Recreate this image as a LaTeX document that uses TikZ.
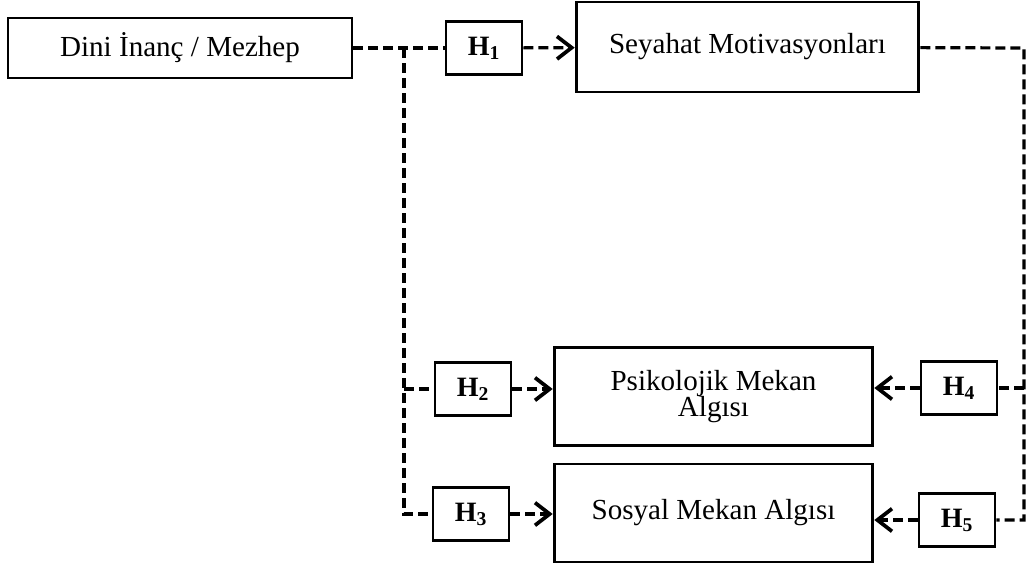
\documentclass[tikz,border=0pt]{standalone}
\usepackage{fontspec}
\setmainfont{Liberation Serif}
\usetikzlibrary{arrows.meta}

\begin{document}
\begin{tikzpicture}[x=0.75pt,y=0.75pt,yscale=-1,xscale=1,
		box/.style={draw, line width=2.2pt, inner sep=0.75pt, align=center, font=\fontsize{21.8}{20}\selectfont},
		hbox/.style={box, minimum width=57pt, minimum height=40pt, font=\fontsize{21}{22}\selectfont\bfseries},
		link/.style={line width=2.4pt, dash pattern=on 7.5pt off 3.75pt},
		tip/.style={link, -{Straight Barb[length=11pt,width=17pt,line width=2.8pt]}}]
		%set diagram left start at 0, and has height of 568
		\useasboundingbox (0,0) rectangle (1028,568);
		
		%Shape: Rectangle
		\node [box, minimum width=258pt, minimum height=45pt] (dini) at (180,48) {Dini İnanç / Mezhep};
		%Shape: Rectangle
		\node [box, minimum width=257pt, minimum height=67.5pt] (seyahat) at (747.5,47) {Seyahat Motivasyonları};
		%Shape: Rectangle
		\node [box, minimum width=239pt, minimum height=74pt] (psiko) at (713.5,396.5) {Psikolojik Mekan\\Algısı};
		%Shape: Rectangle
		\node [box, minimum width=239pt, minimum height=73.5pt] (sosyal) at (713.5,513) {Sosyal Mekan Algısı};
		
		% Text Node
		\node [hbox] (h1) at (484,48) {H\textsubscript{1}};
		% Text Node
		\node [hbox] (h2) at (473,389) {H\textsubscript{2}};
		% Text Node
		\node [hbox] (h3) at (471,514) {H\textsubscript{3}};
		% Text Node
		\node [hbox] (h4) at (959,388) {H\textsubscript{4}};
		% Text Node
		\node [hbox] (h5) at (957,520) {H\textsubscript{5}};
		
		\coordinate (jl) at (404,48);
		\coordinate (jr) at (1024,48);
		
		% Connection
		\draw [link] (dini) -- (h1);
		\draw [tip] (h1) -- (seyahat);
		% Connection
		\draw [link] (jl) -- (jl |- h3) -- (h3);
		\draw [link] (jl |- h2) -- (h2);
		\draw [tip] (h2) -- (h2 -| psiko.west);
		\draw [tip] (h3) -- (h3 -| sosyal.west);
		% Connection
		\draw [link] (seyahat) -- (jr) -- (jr |- h5) -- (h5);
		\draw [link] (jr |- h4) -- (h4);
		\draw [tip] (h4) -- (h4 -| psiko.east);
		\draw [tip] (h5) -- (h5 -| sosyal.east);
	\end{tikzpicture}
\end{document}
